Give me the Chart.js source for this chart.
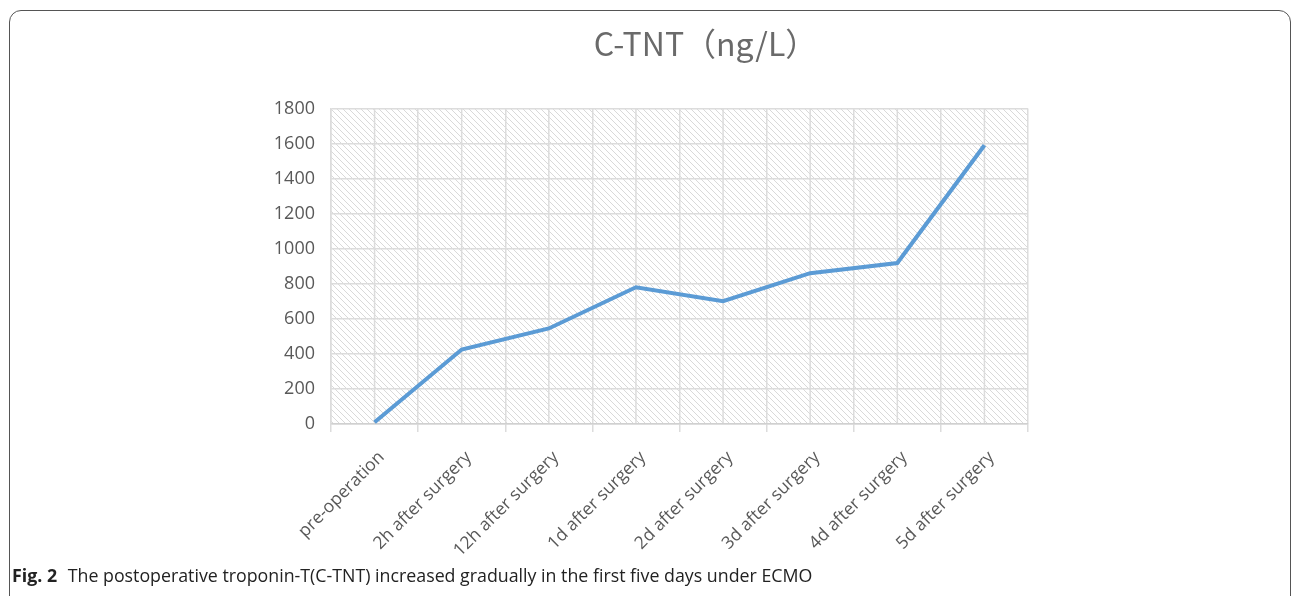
<!DOCTYPE html>
<html lang="en">
<head>
    <meta charset="UTF-8">
    <title>C-TNT (ng/L)</title>
    <script src="https://cdn.jsdelivr.net/npm/chart.js"></script>
    <style>
        html, body { margin: 0; padding: 0; background: #fff; overflow: hidden; }
        #wrap { position: relative; width: 1295px; height: 596px; }
        #frame {
            position: absolute; left: 9px; top: 10px; width: 1282px; height: 700px;
            border: 1.5px solid #555; border-radius: 12px; box-sizing: border-box;
        }
        #chartBox { position: absolute; left: 0; top: 0; width: 1295px; height: 596px; }
        #caption {
            position: absolute; left: 12px; top: 563px;
            font-family: "Open Sans", sans-serif; font-size: 17.8px; color: #222; white-space: nowrap;
        }
        #caption b { margin-right: 6px; }
    </style>
</head>
<body>
<div id="wrap">
    <div id="frame"></div>
    <div id="chartBox"><canvas id="tntChart"></canvas></div>
    <div id="caption"><b>Fig. 2</b> The postoperative troponin-T(C-TNT) increased gradually in the first five days under ECMO</div>
</div>

<script>
    const categories = ['pre-operation', '2h after surgery', '12h after surgery', '1d after surgery',
        '2d after surgery', '3d after surgery', '4d after surgery', '5d after surgery'];
    const tntValues = [10, 425, 545, 780, 700, 860, 918, 1590];
    const yTicks = [0, 200, 400, 600, 800, 1000, 1200, 1400, 1600, 1800];

    const gridColor = '#dcdcdc';
    const textColor = '#595959';

    // diagonal hatch behind the plot, plus the extra vertical lines at the category centres
    const hatchPlugin = {
        id: 'hatch',
        afterLayout(chart) {
            // the original title sits a little right of the plot centre
            chart.titleBlock.left += 26;
            chart.titleBlock.right += 26;
        },
        beforeDraw(chart) {
            const { ctx, chartArea: a, scales } = chart;
            const s = 6;
            const pc = document.createElement('canvas');
            pc.width = s; pc.height = s;
            const p = pc.getContext('2d');
            p.strokeStyle = '#d9d9d9';
            p.lineWidth = 1;
            p.beginPath();
            p.moveTo(0, 0); p.lineTo(s, s);
            p.moveTo(-1, s - 1); p.lineTo(1, s + 1);
            p.moveTo(s - 1, -1); p.lineTo(s + 1, 1);
            p.stroke();
            ctx.save();
            ctx.fillStyle = ctx.createPattern(pc, 'repeat');
            ctx.fillRect(a.left, a.top, a.right - a.left, a.bottom - a.top);
            ctx.strokeStyle = gridColor;
            ctx.lineWidth = 1.5;
            ctx.beginPath();
            categories.forEach((c, i) => {
                const x = scales.x.getPixelForValue(i);
                ctx.moveTo(x, a.top);
                ctx.lineTo(x, a.bottom);
            });
            ctx.stroke();
            ctx.restore();
        }
    };

    const ctx = document.getElementById('tntChart').getContext('2d');
    new Chart(ctx, {
        type: 'line',
        data: {
            labels: categories,
            datasets: [{
                label: 'C-TNT',
                data: tntValues,
                borderColor: '#5b9bd5',
                borderWidth: 4,
                pointRadius: 0,
                tension: 0,
                fill: false
            }]
        },
        options: {
            responsive: true,
            maintainAspectRatio: false,
            animation: false,
            layout: { padding: { left: 250, right: 267, top: 0, bottom: 0 } },
            plugins: {
                legend: { display: false },
                tooltip: { enabled: false },
                title: {
                    display: true,
                    text: 'C-TNT（ng/L）',
                    fullSize: false,
                    color: '#6a6a6a',
                    font: { family: '"Noto Sans CJK SC", "Noto Sans", sans-serif', size: 32, weight: 'normal' },
                    padding: { top: 25, bottom: 45 }
                }
            },
            scales: {
                x: {
                    offset: true,
                    grid: { offset: true, color: gridColor, lineWidth: 1.5, tickLength: 8 },
                    border: { color: '#d0d0d0', width: 1.5 },
                    ticks: {
                        color: textColor,
                        minRotation: 45,
                        maxRotation: 45,
                        padding: 15,
                        labelOffset: 7,
                        font: { family: '"Open Sans", sans-serif', size: 17.5 }
                    },
                    afterFit(scale) { scale.height = 172; }
                },
                y: {
                    min: 0,
                    max: 1800,
                    afterBuildTicks(scale) { scale.ticks = yTicks.map(v => ({ value: v })); },
                    grid: { color: gridColor, lineWidth: 1.5, drawTicks: false },
                    border: { color: gridColor, width: 1.5 },
                    ticks: {
                        color: textColor,
                        padding: 16,
                        font: { family: '"Open Sans", sans-serif', size: 18 },
                        callback: v => String(v)
                    },
                    afterFit(scale) { scale.width = 81; }
                }
            }
        },
        plugins: [hatchPlugin]
    });
</script>
</body>
</html>
